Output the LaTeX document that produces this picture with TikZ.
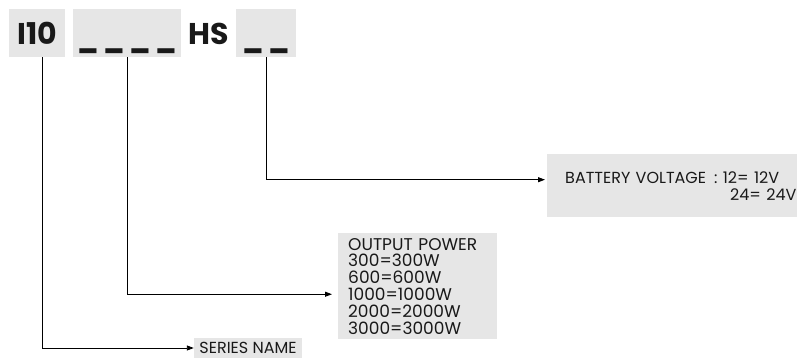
\documentclass[tikz,border=0pt]{standalone}
\usepackage{fontspec}
\usepackage{graphicx}
\setmainfont{Poppins}
\usetikzlibrary{arrows.meta}
\definecolor{boxgray}{RGB}{230,230,230}
\definecolor{inkblack}{RGB}{25,25,25}
\newcommand{\blankmark}{\scalebox{0.92}[1]{\_}}

\begin{document}
\begin{tikzpicture}[
    x=1pt, y=1pt,
    every node/.style={font=\fontsize{16}{17}\selectfont, text=inkblack},
    head/.style={fill=boxgray, minimum height=48pt, inner sep=0pt, text height=24pt, text depth=0pt, font=\fontsize{30}{32}\selectfont\bfseries},
    infobox/.style={fill=boxgray, anchor=north west, align=left},
    arrow/.style={-{Triangle[length=7pt,width=5pt]}, line width=0.9pt}
]
\useasboundingbox (0,0) rectangle (797,-358);

% Model code along the top
\node[head, minimum width=56pt] (series) at (37,-33) {I10};
\node[head, minimum width=108pt] (power) at (127,-33) {\raisebox{-3pt}{\blankmark\hspace{4.5pt}\blankmark\hspace{4.5pt}\blankmark\hspace{4.5pt}\blankmark}};
\node[head, fill=none] (hs) at (209,-33) {HS};
\node[head, minimum width=60pt] (volt) at (266,-33) {\raisebox{-3pt}{\blankmark\hspace{4.5pt}\blankmark}};

% Explanation boxes
\node[fill=boxgray, minimum width=108pt, minimum height=20pt, inner sep=0pt] (name) at (248,-348) {SERIES NAME};
\node[infobox, font=\fontsize{17}{16.8}\selectfont, text width=139pt, inner xsep=10pt, inner ysep=5pt] (pwlist) at (338,-233)
    {OUTPUT POWER\\300=300W\\600=600W\\1000=1000W\\2000=2000W\\3000=3000W};
\node[infobox, text width=240pt, inner xsep=18pt, minimum height=63pt] (battery) at (547,-154)
    {BATTERY VOLTAGE\hspace{8pt}: 12= 12V\\\hspace*{165pt}24= 24V};

% Connectors
\draw[arrow] ([xshift=5pt]series.south) |- (name.west);
\draw[arrow] (power.south) |- ([shift={(-6,-8)}]pwlist.west);
\draw[arrow] (volt.south) |- ([shift={(-2,6)}]battery.west);

\end{tikzpicture}
\end{document}
